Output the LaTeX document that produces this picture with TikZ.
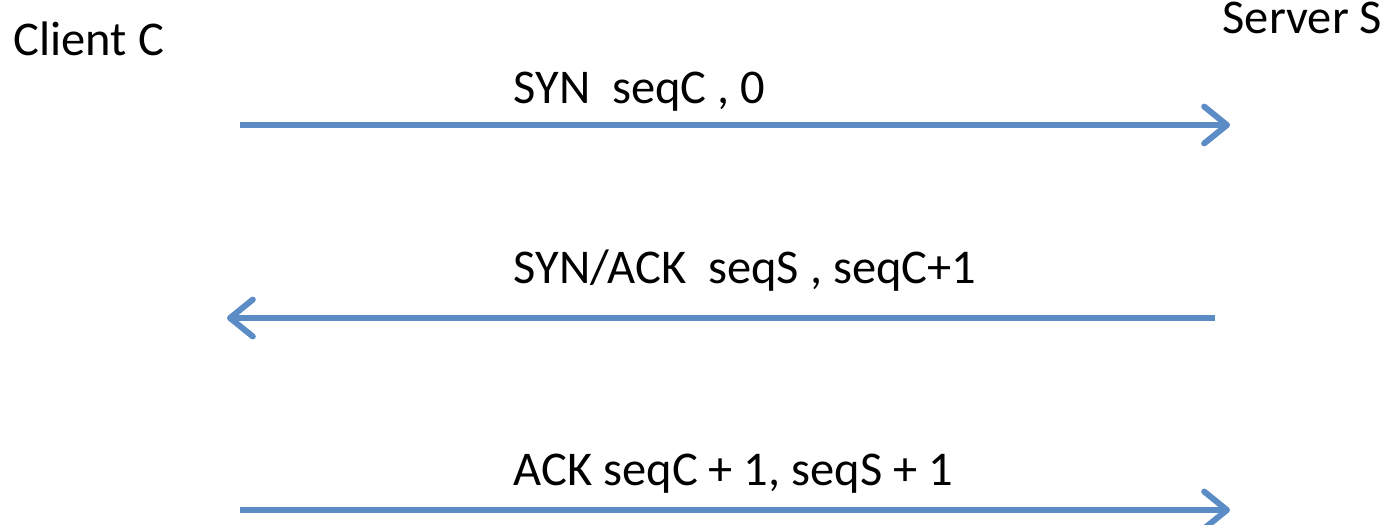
\documentclass[tikz,border=0pt]{standalone}
\usepackage{fontspec}
\setmainfont{Carlito}
\usepackage{xcolor}
\usepackage{tikz}
\usetikzlibrary{arrows.meta, positioning, calc}
\definecolor{msgblue}{HTML}{5B8CC6}

\begin{document}
\begin{tikzpicture}[
    msg/.style={draw=msgblue, line width=1.7pt,
      -{Straight Barb[length=6.5pt, width=10.5pt, round]}},
    lbl/.style={anchor=base west, inner sep=0pt, font=\fontsize{13.8pt}{16pt}\selectfont}
  ]
  \useasboundingbox (0,0) rectangle (13.85,5.24);

  % End points of the messages
  \coordinate (C1) at (2.40,3.99);
  \coordinate (S1) at (12.30,3.99);
  \coordinate (S2) at (12.15,2.06);
  \coordinate (C2) at (2.27,2.06);
  \coordinate (C3) at (2.40,0.14);
  \coordinate (S3) at (12.30,0.14);

  % Hosts
  \node[lbl] (client) at (0.13,4.69) {Client C};
  \node[lbl] (server) at (12.22,4.91) {Server S};

  % Messages
  \draw[msg] (C1) -- (S1);
  \draw[msg] (S2) -- (C2);
  \draw[msg] (C3) -- (S3);

  \node[lbl] (syn) at (5.13,4.21) {SYN~ seqC , 0};
  \node[lbl] (synack) at (5.13,2.41) {SYN/ACK~ seqS , seqC+1};
  \node[lbl] (ack) at (5.13,0.39) {ACK seqC + 1, seqS + 1};
\end{tikzpicture}
\end{document}
